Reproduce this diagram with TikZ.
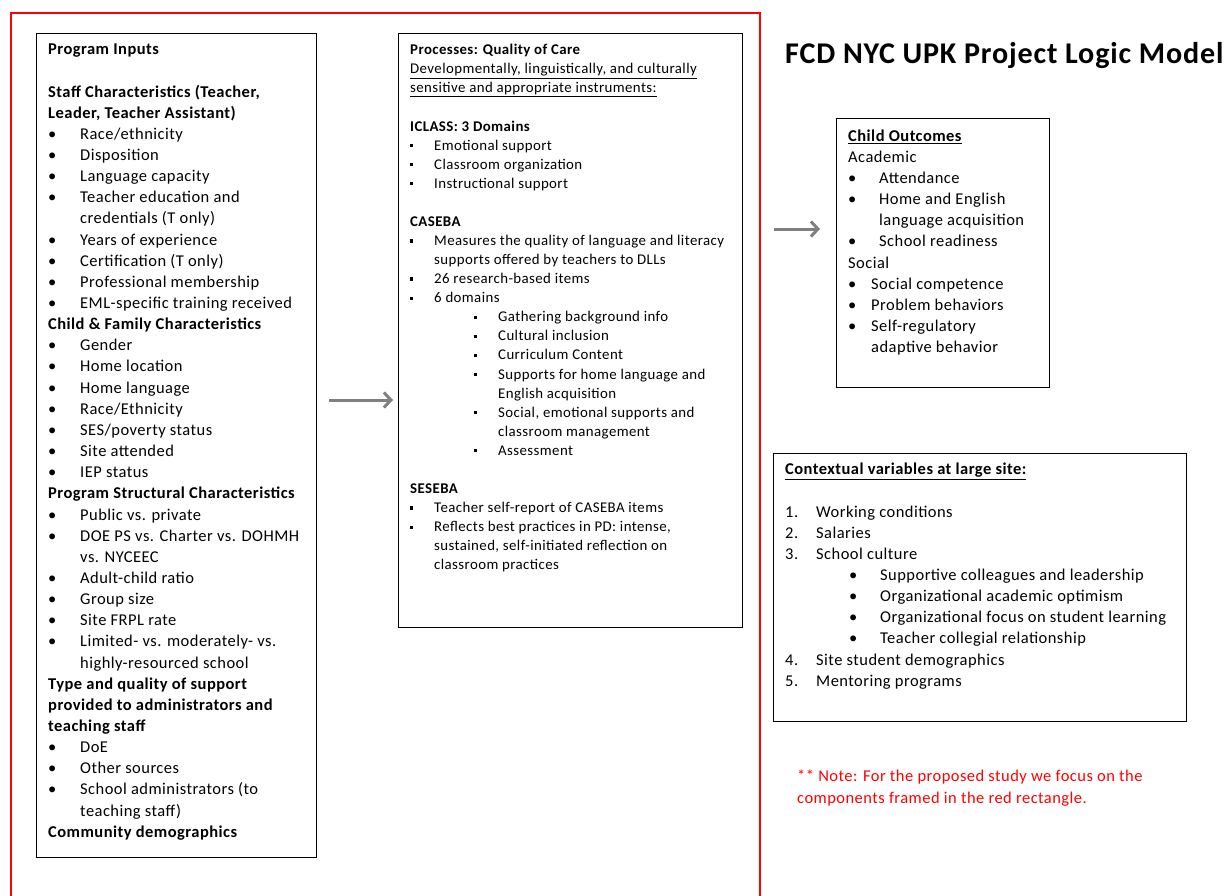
\documentclass[tikz,border=0pt]{standalone}
\usepackage{fontspec}
\setmainfont{Carlito}[LetterSpace=2.8]
\usetikzlibrary{positioning,arrows.meta}

\newcommand{\bul}[1][32pt]{\makebox[#1][l]{\textbullet}}
\newcommand{\sqb}[1][24pt]{\makebox[#1][l]{\raisebox{.2em}{\rule{3.2pt}{3.2pt}}}}
\newcommand{\ind}[1][32pt]{\hspace*{#1}}
\newcommand{\blank}{\mbox{}}

\begin{document}
\begin{tikzpicture}[x=1pt,y=-1pt,
    box/.style={draw,line width=0.8pt,anchor=north west,inner sep=0pt},
    body/.style={inner sep=0pt,align=left,font=\fontsize{16.5}{21.15}\selectfont},
    small body/.style={body,font=\fontsize{14.85}{19.08}\selectfont},
    flow/.style={draw=gray,line width=3pt,-{Straight Barb[length=7pt,width=15pt]}}]

  \useasboundingbox (0,0) rectangle (1228,896);

  \draw[red,line width=2pt] (11,13) rectangle (760,905);

  \node[box,minimum width=280pt,minimum height=824pt] (inputs) at (36,33) {};
  \node[box,minimum width=344pt,minimum height=594pt] (process) at (398,33) {};
  \node[box,minimum width=213pt,minimum height=269pt] (outcomes) at (836,118) {};
  \node[box,minimum width=413pt,minimum height=268pt] (context) at (773,453) {};

  \node[body] (inputstext) [below right=8.5pt and 12pt of inputs.north west] {%
    \rule{0pt}{13pt}\textbf{Program Inputs}\\
    \blank\\
    \textbf{Staff Characteristics (Teacher,}\\
    \textbf{Leader, Teacher Assistant)}\\
    \bul Race/ethnicity\\
    \bul Disposition\\
    \bul Language capacity\\
    \bul Teacher education and\\
    \ind credentials (T only)\\
    \bul Years of experience\\
    \bul Certification (T only)\\
    \bul Professional membership\\
    \bul EML-specific training received\\
    \textbf{Child \& Family Characteristics}\\
    \bul Gender\\
    \bul Home location\\
    \bul Home language\\
    \bul Race/Ethnicity\\
    \bul SES/poverty status\\
    \bul Site attended\\
    \bul IEP status\\
    \textbf{Program Structural Characteristics}\\
    \bul Public vs. private\\
    \bul DOE PS vs. Charter vs. DOHMH\\
    \ind vs. NYCEEC\\
    \bul Adult-child ratio\\
    \bul Group size\\
    \bul Site FRPL rate\\
    \bul Limited- vs. moderately- vs.\\
    \ind highly-resourced school\\
    \textbf{Type and quality of support}\\
    \textbf{provided to administrators and}\\
    \textbf{teaching staff}\\
    \bul DoE\\
    \bul Other sources\\
    \bul School administrators (to\\
    \ind teaching staff)\\
    \textbf{Community demographics}};

  \node[small body] (processtext) [below right=8.5pt and 12pt of process.north west] {%
    \rule{0pt}{13pt}\textbf{Processes: Quality of Care}\\
    \underline{Developmentally, linguistically, and culturally}\\
    \underline{sensitive and appropriate instruments:}\\
    \blank\\
    \textbf{ICLASS: 3 Domains}\\
    \sqb Emotional support\\
    \sqb Classroom organization\\
    \sqb Instructional support\\
    \blank\\
    \textbf{CASEBA}\\
    \sqb Measures the quality of language and literacy\\
    \ind[24pt]supports offered by teachers to DLLs\\
    \sqb 26 research-based items\\
    \sqb 6 domains\\
    \ind[64pt]\sqb Gathering background info\\
    \ind[64pt]\sqb Cultural inclusion\\
    \ind[64pt]\sqb Curriculum Content\\
    \ind[64pt]\sqb Supports for home language and\\
    \ind[88pt]English acquisition\\
    \ind[64pt]\sqb Social, emotional supports and\\
    \ind[88pt]classroom management\\
    \ind[64pt]\sqb Assessment\\
    \blank\\
    \textbf{SESEBA}\\
    \sqb Teacher self-report of CASEBA items\\
    \sqb Reflects best practices in PD: intense,\\
    \ind[24pt]sustained, self-initiated reflection on\\
    \ind[24pt]classroom practices};

  \node[body] (outcomestext) [below right=10pt and 12pt of outcomes.north west] {%
    \rule{0pt}{13pt}\textbf{\underline{Child Outcomes}}\\
    Academic\\
    \bul[31pt]Attendance\\
    \bul[31pt]Home and English\\
    \ind[31pt]language acquisition\\
    \bul[31pt]School readiness\\
    Social\\
    \bul[23pt]Social competence\\
    \bul[23pt]Problem behaviors\\
    \bul[23pt]Self-regulatory\\
    \ind[23pt]adaptive behavior};

  \node[body] (contexttext) [below right=8.5pt and 12pt of context.north west] {%
    \rule{0pt}{13pt}\textbf{\underline{Contextual variables at large site:}}\\
    \blank\\
    \makebox[31pt][l]{1.}Working conditions\\
    \makebox[31pt][l]{2.}Salaries\\
    \makebox[31pt][l]{3.}School culture\\
    \ind[64pt]\bul[31pt]Supportive colleagues and leadership\\
    \ind[64pt]\bul[31pt]Organizational academic optimism\\
    \ind[64pt]\bul[31pt]Organizational focus on student learning\\
    \ind[64pt]\bul[31pt]Teacher collegial relationship\\
    \makebox[31pt][l]{4.}Site student demographics\\
    \makebox[31pt][l]{5.}Mentoring programs};

  \node[anchor=north west,inner sep=0pt,font=\bfseries\fontsize{30.1}{35}\selectfont] (title) at (785,42) {FCD NYC UPK Project Logic Model};

  \node[body,red,anchor=north west,font=\fontsize{16.5}{22}\selectfont] (note) at (797,768) {%
    \rule{0pt}{13pt}** Note: For the proposed study we focus on the\\
    components framed in the red rectangle.};

  \coordinate (arrowA) at (0,400);
  \coordinate (arrowB) at (0,229);
  \draw[flow,shorten <=12pt,shorten >=5pt] (inputs.east |- arrowA) -- (process.west |- arrowA);
  \draw[flow,shorten <=31pt,shorten >=16pt] (process.east |- arrowB) -- (outcomes.west |- arrowB);
\end{tikzpicture}
\end{document}
